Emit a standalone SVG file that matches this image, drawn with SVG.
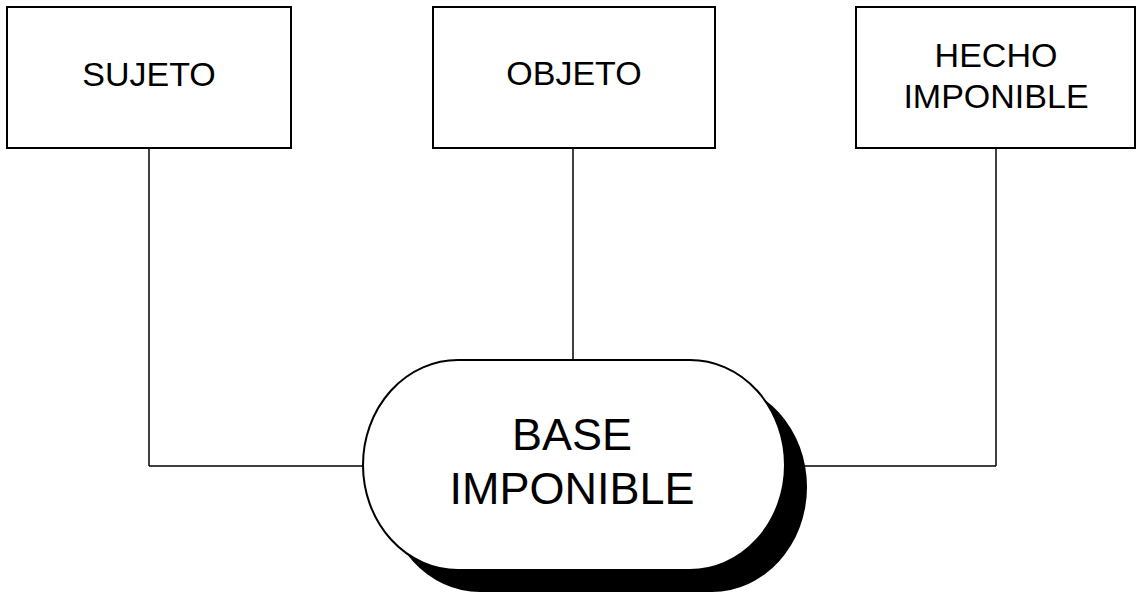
<svg xmlns="http://www.w3.org/2000/svg" width="1136" height="595" viewBox="0 0 1136 595">
<style>
.box{fill:#fff;stroke:#000;stroke-width:2}
.conn{fill:none;stroke:#000;stroke-width:1.5}
.t{font-family:"Liberation Sans",Arial,sans-serif;font-size:34px;fill:#000;text-anchor:middle}
.tb{font-family:"Liberation Sans",Arial,sans-serif;font-size:45px;fill:#000;text-anchor:middle}
</style>
<rect width="1136" height="595" fill="#fff"/>
<g id="connectors">
<line class="conn" x1="149" y1="148" x2="149" y2="466"/>
<line class="conn" x1="149" y1="466" x2="365" y2="466"/>
<line class="conn" x1="573" y1="148" x2="573" y2="362"/>
<line class="conn" x1="783" y1="466" x2="996" y2="466"/>
<line class="conn" x1="996" y1="148" x2="996" y2="466"/>
</g>
<g id="sujeto">
<rect class="box" x="7" y="7" width="284" height="141"/>
<text class="t" x="149" y="86">SUJETO</text>
</g>
<g id="objeto">
<rect class="box" x="433" y="7" width="282" height="141"/>
<text class="t" x="574" y="85">OBJETO</text>
</g>
<g id="hecho">
<rect class="box" x="856" y="7" width="279" height="141"/>
<text class="t" x="996" y="67">HECHO</text>
<text class="t" x="996" y="108">IMPONIBLE</text>
</g>
<g id="base">
<rect x="385" y="382" width="422" height="210" rx="95" ry="105" fill="#000"/>
<rect class="box" x="363" y="360" width="422" height="210" rx="95" ry="105"/>
<text class="tb" x="572" y="450">BASE</text>
<text class="tb" x="572" y="504">IMPONIBLE</text>
</g>
</svg>
